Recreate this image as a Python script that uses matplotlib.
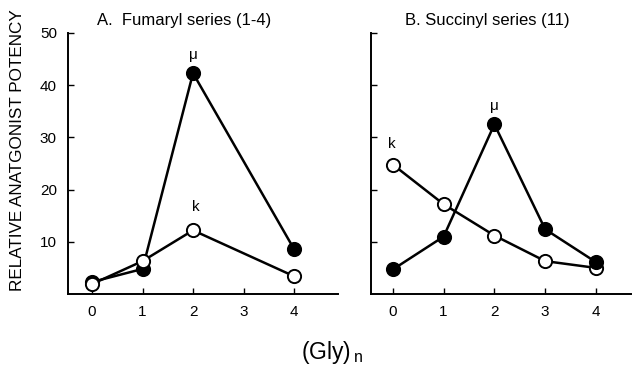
import matplotlib
matplotlib.use('Agg')
import matplotlib.pyplot as plt

plt.rcParams['font.family'] = ['Liberation Sans', 'DejaVu Sans']

# Panel A - Fumaryl series
gly_a = [0, 1, 2, 4]
mu_a = [2.3, 4.8, 42.3, 8.6]
kappa_a = [1.9, 6.3, 12.2, 3.4]

# Panel B - Succinyl series
gly_b = [0, 1, 2, 3, 4]
mu_b = [4.7, 11.0, 32.5, 12.4, 6.1]
kappa_b = [24.8, 17.2, 11.2, 6.3, 5.0]

xticks = [0, 1, 2, 3, 4]
yticks = [10, 20, 30, 40, 50]

W, H = 632, 369
fig = plt.figure(figsize=(W / 100, H / 100), dpi=100)

bottom = 1 - 294 / H
top = 1 - 33 / H
ax_a = fig.add_axes([68 / W, bottom, (338 - 68) / W, top - bottom])
ax_b = fig.add_axes([371 / W, bottom, (631 - 371) / W, top - bottom])


def style(ax, xlim, labels=True):
    ax.set_xlim(*xlim)
    ax.set_ylim(0, 50)
    for s in ['top', 'right']:
        ax.spines[s].set_visible(False)
    for s in ['left', 'bottom']:
        ax.spines[s].set_linewidth(1.4)
    ax.set_xticks(xticks)
    ax.set_yticks(yticks)
    ax.tick_params(direction='in', length=4, width=1.0, labelsize=11, pad=8)
    if not labels:
        ax.set_yticklabels([])


def series(ax, x, y, filled):
    ax.plot(x, y, color='black', lw=1.8, marker='o', ms=9.5,
            mfc='black' if filled else 'white', mec='black', mew=1.4,
            clip_on=False, zorder=3)


# A
series(ax_a, gly_a, mu_a, True)
series(ax_a, gly_a, kappa_a, False)
style(ax_a, (-0.475, 4.87))
ax_a.text(2, 45.8, 'μ', ha='center', va='center', fontsize=11)
ax_a.text(2.05, 16.6, 'k', ha='center', va='center', fontsize=11)

# B
series(ax_b, gly_b, kappa_b, False)
series(ax_b, gly_b, mu_b, True)
style(ax_b, (-0.43, 4.69), labels=False)
ax_b.text(2, 36, 'μ', ha='center', va='center', fontsize=11)
ax_b.text(-0.02, 28.7, 'k', ha='center', va='center', fontsize=11)

fig.text(184 / W, 1 - 21 / H, 'A.  Fumaryl series (1-4)', ha='center', va='center', fontsize=12)
fig.text(487 / W, 1 - 21 / H, 'B. Succinyl series (11)', ha='center', va='center', fontsize=12)
fig.text(18 / W, 1 - 150 / H, 'RELATIVE ANATGONIST POTENCY', rotation=90,
         ha='center', va='center', fontsize=12.3)
fig.text(332 / W, 1 - 353 / H, r'(Gly)$_{\,\mathregular{n}}$', ha='center', va='center', fontsize=16.5)

fig.savefig('out.png', dpi=100)
